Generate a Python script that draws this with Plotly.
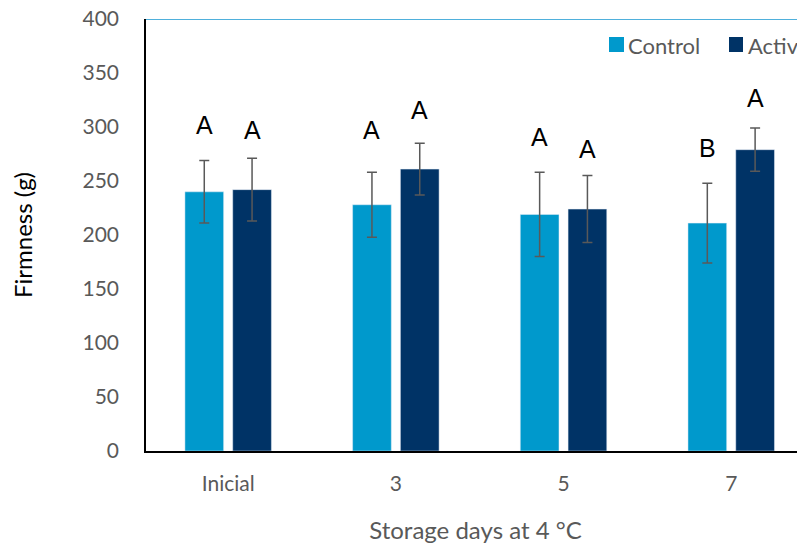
import plotly.graph_objects as go

categories = ["Inicial", "3", "5", "7"]
control = [240, 228, 219, 211]
control_err = [29, 30, 39, 37]
active = [242, 261, 224, 279]
active_err = [29, 24, 31, 20]
control_letters = ["A", "A", "A", "B"]
active_letters = ["A", "A", "A", "A"]
control_letter_y = [302, 297, 291, 281]
active_letter_y = [297, 316, 280, 327]

C_CTRL = "#0099CC"
C_ACT = "#003366"
GRAY = "#595959"
FONT = "Lato"

W, H = 797, 536
ML, MT, MB = 138, 11, 93
PW, PH = W - ML, H - MT - MB


def px_x(x):
    return (x - ML - 8) / PW


def px_y(y):
    return (H - MB + 8 - y) / PH


fig = go.Figure()
fig.add_trace(go.Bar(
    x=categories, y=control, name="Control", marker_color=C_CTRL,
    error_y=dict(type="data", array=control_err, color=GRAY, thickness=1.5, width=5),
))
fig.add_trace(go.Bar(
    x=categories, y=active, name="Active", marker_color=C_ACT,
    error_y=dict(type="data", array=active_err, color=GRAY, thickness=1.5, width=5),
))

# significance letters
for i, cat in enumerate(categories):
    fig.add_annotation(x=i, y=control_letter_y[i], xshift=-24, text=control_letters[i],
                       showarrow=False, font=dict(family="Liberation Sans", size=25, color="black"))
    fig.add_annotation(x=i, y=active_letter_y[i], xshift=24, text=active_letters[i],
                       showarrow=False, font=dict(family="Liberation Sans", size=25, color="black"))

# top border line (blue)
fig.add_shape(type="line", xref="paper", yref="y", x0=0, x1=1.05, y0=400, y1=400,
              line=dict(color="#4FB0DC", width=2))

# manual legend
fig.add_shape(type="rect", xref="paper", yref="paper", x0=px_x(609), x1=px_x(624),
              y0=px_y(52), y1=px_y(37), fillcolor=C_CTRL, line_width=0)
fig.add_shape(type="rect", xref="paper", yref="paper", x0=px_x(729), x1=px_x(743),
              y0=px_y(52), y1=px_y(37), fillcolor=C_ACT, line_width=0)
fig.add_annotation(xref="paper", yref="paper", x=px_x(626), y=px_y(45),
                   xanchor="left", yanchor="middle", text="Control", showarrow=False,
                   font=dict(family=FONT, size=22, color=GRAY))
fig.add_annotation(xref="paper", yref="paper", x=px_x(746), y=px_y(45),
                   xanchor="left", yanchor="middle", text="Active", showarrow=False,
                   font=dict(family=FONT, size=22, color=GRAY))

fig.update_layout(
    width=W, height=H,
    margin=dict(l=ML, r=0, t=MT, b=MB),
    plot_bgcolor="white", paper_bgcolor="white",
    barmode="group", bargap=0.43, bargroupgap=0.19,
    showlegend=False,
    font=dict(family=FONT, color=GRAY),
)
fig.update_xaxes(
    type="category", range=[-0.49, 3.44], automargin=False,
    showline=True, linecolor="black", linewidth=1.5,
    ticks="", tickfont=dict(size=21, color=GRAY, family=FONT), ticklabelstandoff=13,
    title=dict(text="Storage days at 4 °C", font=dict(size=24, color=GRAY, family=FONT), standoff=28),
)
fig.update_yaxes(
    range=[0, 400], dtick=50, showgrid=False, zeroline=False, automargin=False,
    showline=True, linecolor="black", linewidth=1.5, ticklabeloverflow="allow",
    ticks="", tickfont=dict(size=21, color=GRAY, family=FONT), ticklabelstandoff=21,
    title=dict(text="Firmness (g)", font=dict(size=24, color="black", family=FONT), standoff=44),
)

fig.write_html("out.html")
